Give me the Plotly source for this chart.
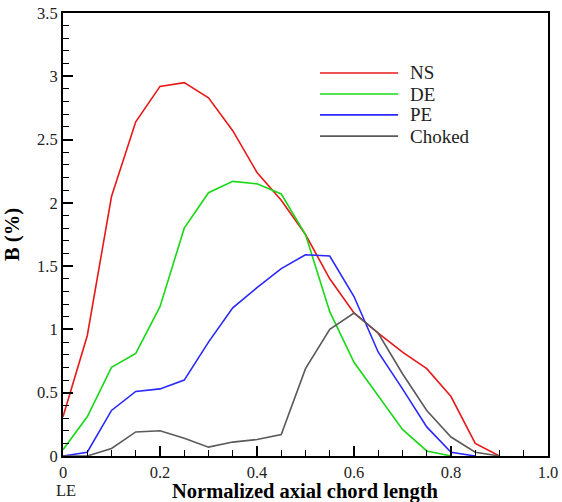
import plotly.graph_objects as go

x = [0, 0.05, 0.1, 0.15, 0.2, 0.25, 0.3, 0.35, 0.4, 0.45, 0.5, 0.55, 0.6, 0.65, 0.7, 0.75, 0.8, 0.85, 0.9]
ns = [0.31, 0.95, 2.05, 2.64, 2.92, 2.95, 2.83, 2.57, 2.24, 2.02, 1.75, 1.40, 1.13, 0.97, 0.82, 0.69, 0.47, 0.10, 0.0]
de = [0.05, 0.31, 0.70, 0.81, 1.18, 1.80, 2.08, 2.17, 2.15, 2.07, 1.75, 1.14, 0.74, 0.47, 0.21, 0.04, 0.0]
pe = [0.0, 0.03, 0.36, 0.51, 0.53, 0.60, 0.90, 1.17, 1.33, 1.48, 1.59, 1.58, 1.26, 0.82, 0.53, 0.23, 0.03, 0.0]
choked = [0.0, 0.0, 0.06, 0.19, 0.20, 0.14, 0.07, 0.11, 0.13, 0.17, 0.69, 1.00, 1.13, 0.97, 0.65, 0.36, 0.15, 0.03, 0.0]

names = ["NS", "DE", "PE", "Choked"]
series = [ns, de, pe, choked]
colors = ["#e81818", "#18d818", "#2828ff", "#5a5a5a"]

x_tickvals = [0, 0.2, 0.4, 0.6, 0.8, 1.0]
x_ticktext = ["0", "0.2", "0.4", "0.6", "0.8", "1.0"]
y_tickvals = [0, 0.5, 1, 1.5, 2, 2.5, 3, 3.5]
y_ticktext = ["0", "0.5", "1", "1.5", "2", "2.5", "3", "3.5"]

FONT = "Liberation Serif, Times New Roman, serif"

fig = go.Figure()
for name, ys, c in zip(names, series, colors):
    fig.add_trace(go.Scatter(x=x[:len(ys)], y=ys, mode="lines", name=name,
                             line=dict(color=c, width=1.6), showlegend=False))

axis_common = dict(showline=True, linecolor="black", linewidth=2, mirror=True,
                   showgrid=False, zeroline=False, ticks="inside", ticklen=10,
                   tickwidth=2, tickcolor="black", automargin=False,
                   tickfont=dict(family=FONT, size=16.5, color="#222"))

fig.update_xaxes(range=[0, 1.0], tickvals=x_tickvals, ticktext=x_ticktext,
                 minor=dict(ticks="inside", dtick=0.05, ticklen=6, tickwidth=1, tickcolor="black"),
                 **axis_common)
fig.update_yaxes(range=[0, 3.5], tickvals=y_tickvals, ticktext=y_ticktext,
                 minor=dict(ticks="inside", dtick=0.1, ticklen=6, tickwidth=1, tickcolor="black"),
                 title=dict(text="<b>B (%)</b>",
                            font=dict(family=FONT, size=20.5, color="black"), standoff=12),
                 **axis_common)

# x-axis title as annotation below tick labels
fig.add_annotation(xref="paper", yref="paper", x=0.5, y=0, yshift=-35, yanchor="middle",
                   text="<b>Normalized axial chord length</b>", showarrow=False,
                   font=dict(family=FONT, size=20.5, color="black"))

fig.add_annotation(x=0, y=0, xref="x", yref="paper", yshift=-34, yanchor="middle",
                   xshift=3, text="LE", showarrow=False,
                   font=dict(family=FONT, size=16.5, color="#222"))

# manual legend (in paper coordinates)
leg_x0, leg_x1, leg_tx = 0.530, 0.691, 0.712
leg_y = [0.8646, 0.817, 0.770, 0.722]
for name, c, ly in zip(names, colors, leg_y):
    fig.add_shape(type="line", xref="paper", yref="paper", x0=leg_x0, x1=leg_x1,
                  y0=ly, y1=ly, line=dict(color=c, width=1.6))
    fig.add_annotation(xref="paper", yref="paper", x=leg_tx, y=ly, xanchor="left",
                       yanchor="middle", text=name, showarrow=False,
                       font=dict(family=FONT, size=19, color="#222"))

fig.update_layout(
    width=562, height=502,
    margin=dict(l=63, r=14, t=13, b=46),
    plot_bgcolor="white", paper_bgcolor="white",
    showlegend=False,
)

fig.write_html("out.html")
